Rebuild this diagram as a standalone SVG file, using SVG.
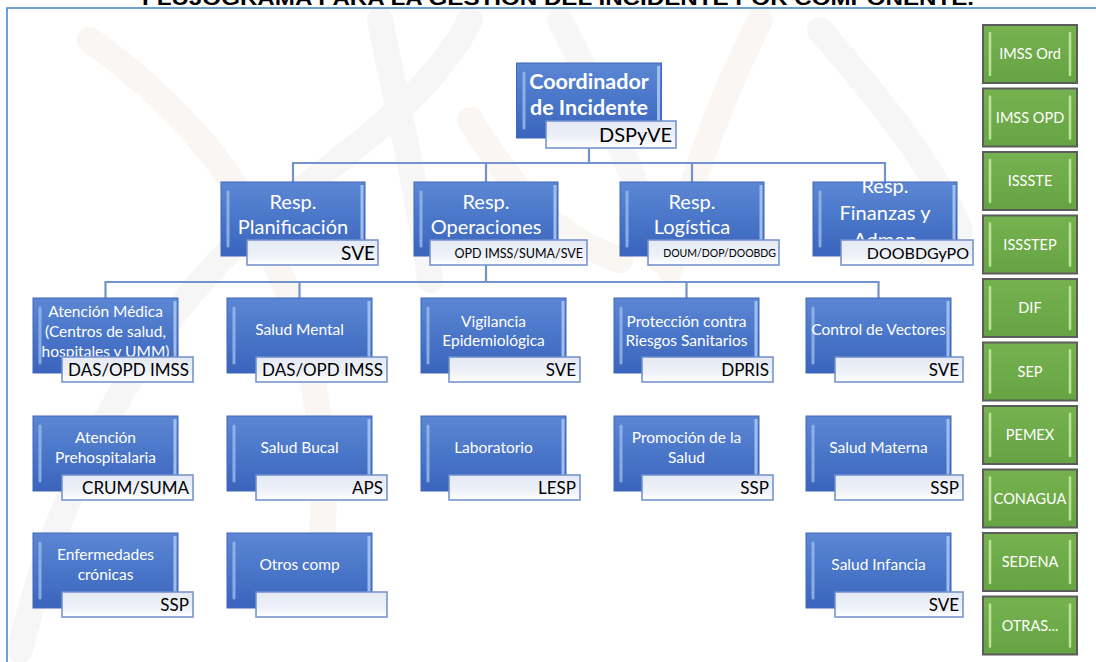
<svg xmlns="http://www.w3.org/2000/svg" width="1096" height="662" viewBox="0 0 1096 662">
<defs>
<linearGradient id="blueG" x1="0" y1="0" x2="0" y2="1">
<stop offset="0" stop-color="#5c87d4"/>
<stop offset="0.5" stop-color="#4a76c9"/>
<stop offset="1" stop-color="#3a64bd"/>
</linearGradient>
<linearGradient id="labG" x1="0" y1="0" x2="0" y2="1">
<stop offset="0" stop-color="#e4e9f4"/>
<stop offset="0.6" stop-color="#eef1f8"/>
<stop offset="1" stop-color="#ffffff"/>
</linearGradient>
<linearGradient id="greenG" x1="0" y1="0" x2="0" y2="1">
<stop offset="0" stop-color="#76b24f"/>
<stop offset="1" stop-color="#66a343"/>
</linearGradient>
<clipPath id="finClip"><rect x="813" y="182" width="144" height="58"/></clipPath>
<style>
.bx{fill:url(#blueG);stroke:#3e67b8;stroke-width:1}
.hl{stroke:#9dbbec;stroke-width:3;stroke-linecap:round;opacity:0.8}
.hr{stroke:#a9c6f2;stroke-width:3;opacity:0.9}
.lb{fill:url(#labG);stroke:#6f8ecb;stroke-width:1.5}
.gb{fill:url(#greenG);stroke:#5c5c5c;stroke-width:2}
.gh{stroke:#bde39a;stroke-width:2.5;stroke-linecap:round}
.wt{font-family:Lato,"Liberation Sans",sans-serif;fill:#ffffff;text-anchor:middle}
.t2{font-size:20px}
.t3{font-size:15.5px}
.tg{font-size:14.5px}
.lt{font-family:Lato,"Liberation Sans",sans-serif;fill:#000000;text-anchor:end;font-size:17px}
.cn{fill:none;stroke:#7393cc;stroke-width:2.2}
.wm{fill:none;stroke-linecap:round;stroke-width:26}
</style>
</defs>
<rect x="0" y="0" width="1096" height="662" fill="#ffffff"/>
<g id="watermark" opacity="0.35">
<path class="wm" stroke="#e8e8e8" d="M20,650 C60,480 150,300 300,190 C380,130 440,80 470,20"/>
<path class="wm" stroke="#efe8e0" d="M90,40 C200,120 260,200 300,330 C320,400 330,470 320,560"/>
<path class="wm" stroke="#e8e8e8" d="M380,20 C400,120 420,200 430,280"/>
<path class="wm" stroke="#ebebeb" d="M560,20 C600,100 640,180 660,260"/>
<path class="wm" stroke="#efe8e0" d="M760,20 C720,100 690,180 670,270"/>
<path class="wm" stroke="#e8e8e8" d="M820,30 C880,100 930,160 960,230"/>
<path class="wm" stroke="#efe8e0" d="M470,120 C520,200 560,240 620,260"/>
</g>
<text x="558" y="5" font-family="'Liberation Sans',Arial,sans-serif" font-weight="bold" font-size="20" text-anchor="middle" textLength="832" lengthAdjust="spacingAndGlyphs" fill="#000">FLUJOGRAMA PARA LA GESTIÓN DEL INCIDENTE POR COMPONENTE.</text>
<path d="M7,662 V8 H1096" fill="none" stroke="#3d85c6" stroke-width="1.5"/>

<g id="connectors">
<path class="cn" d="M589,148 V163 M293,182 V163 H885 V182 M486,163 V182 M692,163 V182"/>
<path class="cn" d="M486,265 V282 M105.5,298 V282 H878.5 V298 M299.5,282 V298 M686.5,282 V298"/>
</g>

<g id="coordinador">
<rect class="bx" x="516.5" y="63" width="145" height="75"/>
<line class="hl" x1="524" y1="73" x2="524" y2="128"/>
<line class="hr" x1="658.5" y1="66" x2="658.5" y2="135"/>
<text class="wt" x="589" y="89" style="font-size:21.5px;font-weight:bold">Coordinador</text>
<text class="wt" x="589" y="115" style="font-size:21.5px;font-weight:bold">de Incidente</text>
<rect class="lb" x="546" y="121" width="130" height="27"/>
<text class="lt" x="672" y="142" style="font-size:20px">DSPyVE</text>
</g>

<g id="planificacion">
<rect class="bx" x="221" y="182" width="144" height="74"/>
<line class="hl" x1="228" y1="192" x2="228" y2="246"/>
<line class="hr" x1="362" y1="185" x2="362" y2="253"/>
<text class="wt t2" x="293" y="209">Resp.</text>
<text class="wt t2" x="293" y="234">Planificación</text>
<rect class="lb" x="247" y="240" width="131" height="25"/>
<text class="lt" x="375" y="260" style="font-size:19px">SVE</text>
</g>

<g id="operaciones">
<rect class="bx" x="414" y="182" width="144" height="74"/>
<line class="hl" x1="421" y1="192" x2="421" y2="246"/>
<line class="hr" x1="555" y1="185" x2="555" y2="253"/>
<text class="wt t2" x="486" y="209">Resp.</text>
<text class="wt t2" x="486" y="234">Operaciones</text>
<rect class="lb" x="430" y="240" width="157" height="25"/>
<text class="lt" x="583" y="258" style="font-size:12.5px">OPD IMSS/SUMA/SVE</text>
</g>

<g id="logistica">
<rect class="bx" x="620" y="182" width="144" height="74"/>
<line class="hl" x1="627" y1="192" x2="627" y2="246"/>
<line class="hr" x1="761" y1="185" x2="761" y2="253"/>
<text class="wt t2" x="692" y="209">Resp.</text>
<text class="wt t2" x="692" y="234">Logística</text>
<rect class="lb" x="648" y="240" width="131" height="25"/>
<text class="lt" x="776" y="257" style="font-size:10.5px">DOUM/DOP/DOOBDG</text>
</g>

<g id="finanzas">
<rect class="bx" x="813" y="182" width="144" height="74"/>
<line class="hl" x1="820" y1="192" x2="820" y2="246"/>
<line class="hr" x1="954" y1="185" x2="954" y2="253"/>
<text class="wt t2" x="885" y="193">Resp.</text>
<text class="wt t2" x="885" y="220">Finanzas y</text>
<text class="wt t2" x="885" y="247" clip-path="url(#finClip)">Admon</text>
<rect class="lb" x="841" y="240" width="132" height="25"/>
<text class="lt" x="969" y="259" style="font-size:16px">DOOBDGyPO</text>
</g>

<g id="atencion-medica">
<rect class="bx" x="33" y="298" width="145" height="75"/>
<line class="hl" x1="40" y1="308" x2="40" y2="363"/>
<line class="hr" x1="175" y1="301" x2="175" y2="370"/>
<text class="wt t3" x="105.5" y="317">Atención Médica</text>
<text class="wt t3" x="105.5" y="337">(Centros de salud,</text>
<text class="wt t3" x="105.5" y="357">hospitales y UMM)</text>
<rect class="lb" x="62" y="357" width="131" height="25"/>
<text class="lt" x="189" y="376">DAS/OPD IMSS</text>
</g>

<g id="salud-mental">
<rect class="bx" x="227" y="298" width="145" height="75"/>
<line class="hl" x1="234" y1="308" x2="234" y2="363"/>
<line class="hr" x1="369" y1="301" x2="369" y2="370"/>
<text class="wt t3" x="299.5" y="335">Salud Mental</text>
<rect class="lb" x="256" y="357" width="131" height="25"/>
<text class="lt" x="383" y="376">DAS/OPD IMSS</text>
</g>

<g id="vigilancia">
<rect class="bx" x="421" y="298" width="145" height="75"/>
<line class="hl" x1="428" y1="308" x2="428" y2="363"/>
<line class="hr" x1="563" y1="301" x2="563" y2="370"/>
<text class="wt t3" x="493.5" y="327">Vigilancia</text>
<text class="wt t3" x="493.5" y="346">Epidemiológica</text>
<rect class="lb" x="449" y="357" width="131" height="25"/>
<text class="lt" x="576" y="376">SVE</text>
</g>

<g id="proteccion">
<rect class="bx" x="614" y="298" width="145" height="75"/>
<line class="hl" x1="621" y1="308" x2="621" y2="363"/>
<line class="hr" x1="756" y1="301" x2="756" y2="370"/>
<text class="wt t3" x="686.5" y="327">Protección contra</text>
<text class="wt t3" x="686.5" y="346">Riesgos Sanitarios</text>
<rect class="lb" x="642" y="357" width="131" height="25"/>
<text class="lt" x="769" y="376">DPRIS</text>
</g>

<g id="control-vectores">
<rect class="bx" x="806" y="298" width="145" height="75"/>
<line class="hl" x1="813" y1="308" x2="813" y2="363"/>
<line class="hr" x1="948" y1="301" x2="948" y2="370"/>
<text class="wt t3" x="878.5" y="335">Control de Vectores</text>
<rect class="lb" x="835" y="357" width="128" height="25"/>
<text class="lt" x="959" y="376">SVE</text>
</g>

<g id="prehospitalaria">
<rect class="bx" x="33" y="416" width="145" height="75"/>
<line class="hl" x1="40" y1="426" x2="40" y2="481"/>
<line class="hr" x1="175" y1="419" x2="175" y2="488"/>
<text class="wt t3" x="105.5" y="443">Atención</text>
<text class="wt t3" x="105.5" y="463">Prehospitalaria</text>
<rect class="lb" x="62" y="475" width="131" height="25"/>
<text class="lt" x="189" y="494">CRUM/SUMA</text>
</g>

<g id="salud-bucal">
<rect class="bx" x="227" y="416" width="145" height="75"/>
<line class="hl" x1="234" y1="426" x2="234" y2="481"/>
<line class="hr" x1="369" y1="419" x2="369" y2="488"/>
<text class="wt t3" x="299.5" y="453">Salud Bucal</text>
<rect class="lb" x="256" y="475" width="131" height="25"/>
<text class="lt" x="383" y="494">APS</text>
</g>

<g id="laboratorio">
<rect class="bx" x="421" y="416" width="145" height="75"/>
<line class="hl" x1="428" y1="426" x2="428" y2="481"/>
<line class="hr" x1="563" y1="419" x2="563" y2="488"/>
<text class="wt t3" x="493.5" y="453">Laboratorio</text>
<rect class="lb" x="449" y="475" width="131" height="25"/>
<text class="lt" x="576" y="494">LESP</text>
</g>

<g id="promocion">
<rect class="bx" x="614" y="416" width="145" height="75"/>
<line class="hl" x1="621" y1="426" x2="621" y2="481"/>
<line class="hr" x1="756" y1="419" x2="756" y2="488"/>
<text class="wt t3" x="686.5" y="443">Promoción de la</text>
<text class="wt t3" x="686.5" y="463">Salud</text>
<rect class="lb" x="642" y="475" width="131" height="25"/>
<text class="lt" x="769" y="494">SSP</text>
</g>

<g id="salud-materna">
<rect class="bx" x="806" y="416" width="145" height="75"/>
<line class="hl" x1="813" y1="426" x2="813" y2="481"/>
<line class="hr" x1="948" y1="419" x2="948" y2="488"/>
<text class="wt t3" x="878.5" y="453">Salud Materna</text>
<rect class="lb" x="835" y="475" width="128" height="25"/>
<text class="lt" x="959" y="494">SSP</text>
</g>

<g id="enfermedades">
<rect class="bx" x="33" y="533" width="145" height="75"/>
<line class="hl" x1="40" y1="543" x2="40" y2="598"/>
<line class="hr" x1="175" y1="536" x2="175" y2="605"/>
<text class="wt t3" x="105.5" y="560">Enfermedades</text>
<text class="wt t3" x="105.5" y="580">crónicas</text>
<rect class="lb" x="62" y="592" width="131" height="25"/>
<text class="lt" x="189" y="611">SSP</text>
</g>

<g id="otros-comp">
<rect class="bx" x="227" y="533" width="145" height="75"/>
<line class="hl" x1="234" y1="543" x2="234" y2="598"/>
<line class="hr" x1="369" y1="536" x2="369" y2="605"/>
<text class="wt t3" x="299.5" y="570">Otros comp</text>
<rect class="lb" x="256" y="592" width="131" height="25"/>
</g>

<g id="salud-infancia">
<rect class="bx" x="806" y="533" width="145" height="75"/>
<line class="hl" x1="813" y1="543" x2="813" y2="598"/>
<line class="hr" x1="948" y1="536" x2="948" y2="605"/>
<text class="wt t3" x="878.5" y="570">Salud Infancia</text>
<rect class="lb" x="835" y="592" width="128" height="25"/>
<text class="lt" x="959" y="611">SVE</text>
</g>

<g id="imss-ord">
<rect class="gb" x="983" y="25" width="94" height="58"/>
<line class="gh" x1="990" y1="33" x2="990" y2="75"/><line class="gh" x1="1070" y1="33" x2="1070" y2="75"/>
<text class="wt tg" x="1030" y="59">IMSS Ord</text>
</g>
<g id="imss-opd">
<rect class="gb" x="983" y="88.5" width="94" height="58"/>
<line class="gh" x1="990" y1="96.5" x2="990" y2="138.5"/><line class="gh" x1="1070" y1="96.5" x2="1070" y2="138.5"/>
<text class="wt tg" x="1030" y="122.5">IMSS OPD</text>
</g>
<g id="issste">
<rect class="gb" x="983" y="152" width="94" height="58"/>
<line class="gh" x1="990" y1="160" x2="990" y2="202"/><line class="gh" x1="1070" y1="160" x2="1070" y2="202"/>
<text class="wt tg" x="1030" y="186">ISSSTE</text>
</g>
<g id="issstep">
<rect class="gb" x="983" y="215.5" width="94" height="58"/>
<line class="gh" x1="990" y1="223.5" x2="990" y2="265.5"/><line class="gh" x1="1070" y1="223.5" x2="1070" y2="265.5"/>
<text class="wt tg" x="1030" y="249.5">ISSSTEP</text>
</g>
<g id="dif">
<rect class="gb" x="983" y="279" width="94" height="58"/>
<line class="gh" x1="990" y1="287" x2="990" y2="329"/><line class="gh" x1="1070" y1="287" x2="1070" y2="329"/>
<text class="wt tg" x="1030" y="313">DIF</text>
</g>
<g id="sep">
<rect class="gb" x="983" y="342.5" width="94" height="58"/>
<line class="gh" x1="990" y1="350.5" x2="990" y2="392.5"/><line class="gh" x1="1070" y1="350.5" x2="1070" y2="392.5"/>
<text class="wt tg" x="1030" y="376.5">SEP</text>
</g>
<g id="pemex">
<rect class="gb" x="983" y="406" width="94" height="58"/>
<line class="gh" x1="990" y1="414" x2="990" y2="456"/><line class="gh" x1="1070" y1="414" x2="1070" y2="456"/>
<text class="wt tg" x="1030" y="440">PEMEX</text>
</g>
<g id="conagua">
<rect class="gb" x="983" y="469.5" width="94" height="58"/>
<line class="gh" x1="990" y1="477.5" x2="990" y2="519.5"/><line class="gh" x1="1070" y1="477.5" x2="1070" y2="519.5"/>
<text class="wt tg" x="1030" y="503.5">CONAGUA</text>
</g>
<g id="sedena">
<rect class="gb" x="983" y="533" width="94" height="58"/>
<line class="gh" x1="990" y1="541" x2="990" y2="583"/><line class="gh" x1="1070" y1="541" x2="1070" y2="583"/>
<text class="wt tg" x="1030" y="567">SEDENA</text>
</g>
<g id="otras">
<rect class="gb" x="983" y="596.5" width="94" height="58"/>
<line class="gh" x1="990" y1="604.5" x2="990" y2="646.5"/><line class="gh" x1="1070" y1="604.5" x2="1070" y2="646.5"/>
<text class="wt tg" x="1030" y="630.5">OTRAS...</text>
</g>
</svg>
